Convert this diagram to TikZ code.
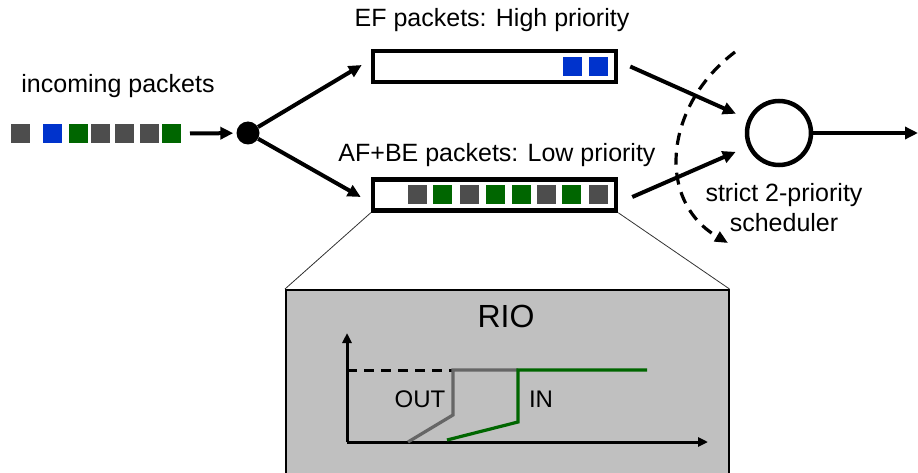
\documentclass[tikz,border=0pt]{standalone}
\usepackage{fontspec}
\setmainfont{Liberation Sans}
\usetikzlibrary{arrows.meta}
\definecolor{pgray}{HTML}{4D4D4D}
\definecolor{pblue}{HTML}{0033CC}
\definecolor{pgreen}{HTML}{006600}
\definecolor{boxgray}{HTML}{C0C0C0}
\definecolor{curvegray}{HTML}{666666}
\tikzset{
  pkt/.style={minimum size=19pt, inner sep=0pt, outer sep=0pt, fill=#1},
  queue/.style={draw=black, line width=4.5pt, minimum width=243pt, minimum height=31pt, inner sep=0pt, fill=white},
  arr/.style={line width=4pt, -{Triangle[length=13pt,width=12pt]}},
  lbl/.style={font=\fontsize{25}{30}\selectfont, inner sep=0pt, anchor=base},
  zoomline/.style={line width=0.8pt, draw=black!80},
  axis/.style={line width=3pt, -{Triangle[length=10pt,width=9pt]}},
}
\begin{document}
\begin{tikzpicture}[x=1pt,y=-1pt]
\useasboundingbox (0,0) rectangle (918,473);

% labels
\node[lbl] (inlbl) at (118,93) {incoming packets};
\node[lbl] (eflbl) at (492,27) {EF packets: High priority};
\node[lbl] (aflbl) at (497,162) {AF+BE packets: Low priority};
\node[lbl] (sch1) at (784,202) {strict 2-priority};
\node[lbl] (sch2) at (784,232) {scheduler};

% incoming packets
\node[pkt=pgray]  (p1) at (20.5,133.5) {};
\node[pkt=pblue]  (p2) at (52,133.5) {};
\node[pkt=pgreen] (p3) at (78.5,133.5) {};
\node[pkt=pgray]  (p4) at (100,133.5) {};
\node[pkt=pgray]  (p5) at (124,133.5) {};
\node[pkt=pgray]  (p6) at (149.5,133.5) {};
\node[pkt=pgreen] (p7) at (171.5,133.5) {};
\coordinate (instart) at (190,133.5);

% classifier dot
\node[circle, fill=black, minimum size=23pt, inner sep=0pt] (dot) at (248,133) {};

% queues
\node[queue] (efq) at (494.5,66.5) {};
\node[pkt=pblue] at (572.5,66.5) {};
\node[pkt=pblue] at (598.5,66.5) {};

\node[queue] (lowq) at (494.5,195) {};
\node[pkt=pgray]  at (417.5,194.5) {};
\node[pkt=pgreen] at (442.5,194.5) {};
\node[pkt=pgray]  at (469.5,194.5) {};
\node[pkt=pgreen] at (495.5,194.5) {};
\node[pkt=pgreen] at (521.5,194.5) {};
\node[pkt=pgray]  at (546.5,194.5) {};
\node[pkt=pgreen] at (571.5,194.5) {};
\node[pkt=pgray]  at (598.5,194.5) {};

% scheduler
\node[circle, draw=black, line width=4.5pt, minimum size=64pt, inner sep=0pt] (sched) at (779,133) {};
\coordinate (outend) at (918,133);

% connectors
\draw[arr, shorten >=3pt] (instart) -- (dot);
\draw[arr] (dot) -- ([xshift=-9pt,yshift=1.5pt]efq.west);
\draw[arr] (dot) -- ([xshift=-10pt,yshift=-2pt]lowq.west);
\draw[arr, shorten >=13pt] ([xshift=12pt]efq.east) -- (sched);
\draw[arr, shorten >=13pt] ([xshift=14pt,yshift=-2pt]lowq.east) -- (sched);
\draw[arr] (sched) -- (outend);

% dashed curve
\draw[line width=3.2pt, dash pattern=on 12pt off 8pt, -{Triangle[length=13pt,width=11pt]}]
  (735,52) .. controls (665,105) and (655,200) .. (728,243);

% zoom box
\node[draw=black, line width=1.5pt, fill=boxgray, minimum width=443pt, minimum height=200pt, anchor=north west, inner sep=0pt] (rio) at (285,289) {};
\draw[zoomline] (lowq.south west) -- (rio.north west);
\draw[zoomline] (lowq.south east) -- (rio.north east);
\node[lbl, font=\fontsize{32}{36}\selectfont] (riolbl) at (506,327) {RIO};

% chart
\draw[axis] (347,442) -- (347,333);
\draw[axis] (347,442) -- (708,442);
\draw[line width=3pt, dash pattern=on 10pt off 7pt] (347,370) -- (452,370);
\draw[line width=3.2pt, curvegray] (408,442) -- (453,415) -- (453,370) -- (518,370);
\draw[line width=3.2pt, pgreen] (447,440) -- (518,422) -- (518,370) -- (647,370);
\node[lbl, font=\fontsize{24}{28}\selectfont] (outlbl) at (420,407) {OUT};
\node[lbl, font=\fontsize{24}{28}\selectfont] (inl) at (541,407) {IN};
\end{tikzpicture}
\end{document}
